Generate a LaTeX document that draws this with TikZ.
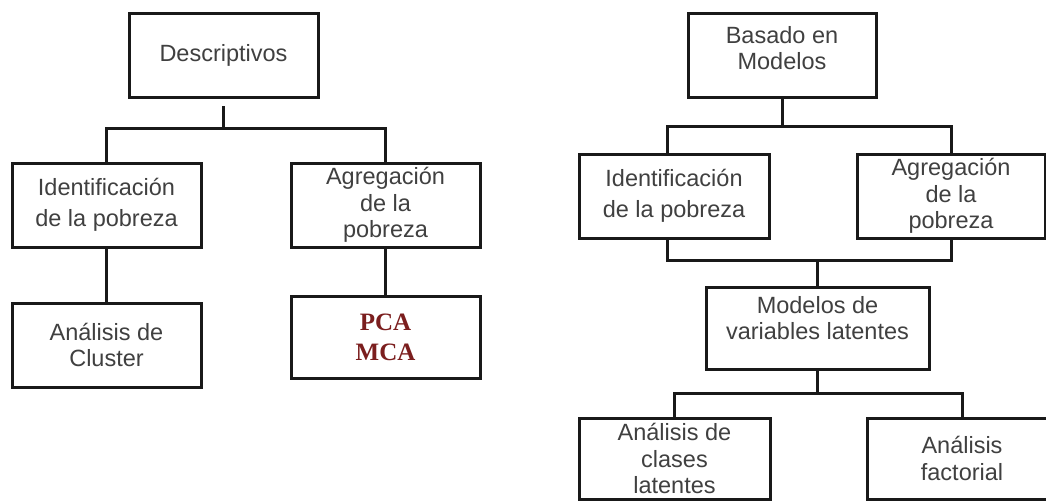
\documentclass[tikz,border=0pt]{standalone}
\usepackage{fontspec}
\setmainfont{Liberation Sans}
\newfontfamily\serifpca{Liberation Serif}
\definecolor{gristexto}{HTML}{404040}
\definecolor{granate}{HTML}{7B1E1E}

\begin{document}
\begin{tikzpicture}[x=1pt,y=-1pt,
  texto/.style={align=center,text=gristexto,font=\fontsize{23.5}{26.5}\selectfont},
  caja/.style={texto,draw=black!90,line width=3pt,inner sep=0pt,minimum width=189pt,minimum height=84pt},
  linea/.style={draw=black!90,line width=3pt}]
  \clip (0,0) rectangle (1046,501);
  \fill[white] (0,0) rectangle (1046,501);

  % descriptivos
  \node[caja] (desc) at (223.5,55.5) {Descriptivos};
  \node[caja,font=\fontsize{23.5}{31}\selectfont] (ident1) at (106.5,205) {Identificación\\de la pobreza};
  \node[caja] (agreg1) at (385.5,205) {Agregación\\de la\\pobreza};
  \node[caja] (cluster) at (106.5,345) {Análisis de\\Cluster};
  \node[caja,minimum height=82pt,text=granate,font=\serifpca\bfseries\fontsize{25}{30}\selectfont] (pca) at (385.5,337) {PCA\\MCA};

  \coordinate (j1) at (223.5,128);
  \draw[linea] ([yshift=-7pt]desc.south) -- (j1);
  \draw[linea] (ident1) |- (j1) -| (agreg1);
  \draw[linea] (ident1) -- (cluster);
  \draw[linea] (agreg1) -- (pca);

  % basado en modelos
  \node[caja,minimum width=188pt] (basado) at (782,55) {};
  \node[texto] (basado-t) at ([yshift=7pt]basado.center) {Basado en\\Modelos};
  \node[caja,minimum width=190pt,font=\fontsize{23.5}{31}\selectfont] (ident2) at (674,196) {Identificación\\de la pobreza};
  \node[caja,minimum width=188pt] (agreg2) at (951,196) {Agregación\\de la\\pobreza};
  \node[caja,minimum width=223pt,minimum height=82pt] (modelos) at (817.5,328) {};
  \node[texto] (modelos-t) at ([yshift=10pt]modelos.center) {Modelos de\\variables latentes};
  \node[caja,minimum width=191pt,minimum height=81pt] (clases) at (674.5,458.5) {Análisis de\\clases\\latentes};
  \node[caja,minimum width=190pt,minimum height=81pt] (factorial) at (962,458.5) {Análisis\\factorial};

  \coordinate (j2) at (782,126);
  \coordinate (j3) at (817.5,260);
  \coordinate (j4) at (817.5,393);
  \draw[linea] (basado) -- (j2);
  \draw[linea] ([xshift=-7pt]ident2.north) |- (j2) -| (agreg2);
  \draw[linea] ([xshift=-7pt]ident2.south) |- (j3) -| (agreg2);
  \draw[linea] (j3) -- (modelos);
  \draw[linea] (modelos) -- (j4);
  \draw[linea] (clases) |- (j4) -| (factorial);
\end{tikzpicture}
\end{document}
